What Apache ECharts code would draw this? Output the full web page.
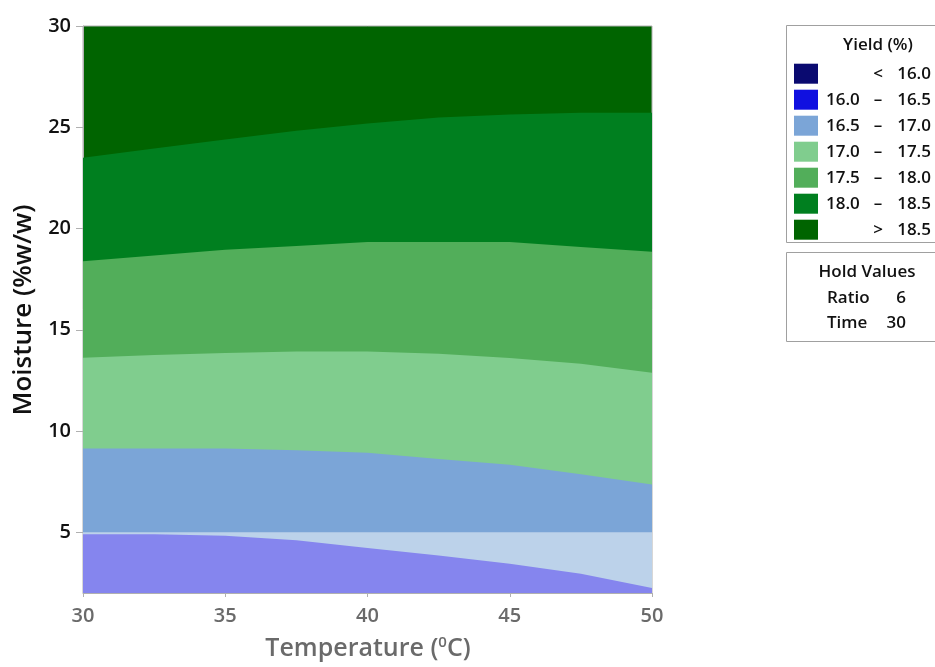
<!DOCTYPE html>
<html>
<head>
<meta charset="utf-8">
<script src="https://cdn.jsdelivr.net/npm/echarts@6/dist/echarts.min.js"></script>
<style>
html,body{margin:0;padding:0;background:#fff;}
#chart{width:935px;height:667px;}
</style>
</head>
<body>
<div id="chart"></div>
<script>
// Temperature (°C) sample points along the contour boundaries
var temps = [30, 32.5, 35, 37.5, 40, 42.5, 45, 47.5, 50];
// Moisture (%w/w) of each contour boundary at those temperatures
var b185 = [23.5, 23.95, 24.4, 24.83, 25.18, 25.48, 25.63, 25.72, 25.72];
var b180 = [18.38, 18.67, 18.95, 19.13, 19.33, 19.33, 19.33, 19.09, 18.85];
var b175 = [13.62, 13.75, 13.85, 13.92, 13.92, 13.82, 13.6, 13.32, 12.88];
var b170 = [9.13, 9.13, 9.13, 9.05, 8.92, 8.62, 8.33, 7.87, 7.36];
var b165 = [5, 5, 5, 5, 5, 5, 5, 5, 5];
var b160 = [4.9, 4.9, 4.83, 4.6, 4.22, 3.85, 3.45, 2.95, 2.25];

var yTicks = [5, 10, 15, 20, 25, 30];
var legendLeft = ['', '16.0', '16.5', '17.0', '17.5', '18.0', ''];
var legendSym = ['<', '\u2013', '\u2013', '\u2013', '\u2013', '\u2013', '>'];
var legendRight = ['16.0', '16.5', '17.0', '17.5', '18.0', '18.5', '18.5'];
var legendColors = ['#0a0a70', '#1010e0', '#7ba5d7', '#80cd8e', '#52ae5a', '#007f1f', '#006400'];
var holdNames = ['Ratio', 'Time'];
var holdValues = ['6', '30'];

var FONT = '"Open Sans", "Noto Sans", sans-serif';
var W = '600 ';

function pairs(arr){ return temps.map(function(t,i){ return [t, arr[i]]; }); }
function band(arr, color){
  return {
    type: 'line', data: pairs(arr), showSymbol: false, silent: true,
    lineStyle: {width: 0}, areaStyle: {color: color, opacity: 1, origin: 'start'},
    animation: false
  };
}

var series = [
  band(b185, '#007f1f'),
  band(b180, '#52ae5a'),
  band(b175, '#80cd8e'),
  band(b170, '#7ba5d7'),
  band(b165, '#bcd2ea'),
  band(b160, '#8585ee')
];

var graphics = [];
// Legend box
graphics.push({type:'rect', shape:{x:786.5, y:25.5, width:160, height:217}, style:{fill:'#fff', stroke:'#a0a0a0', lineWidth:1}});
graphics.push({type:'text', x:878, y:45, style:{text:'Yield (%)', font:W + '17px ' + FONT, fill:'#111', align:'center', verticalAlign:'middle'}});
for (var i = 0; i < legendColors.length; i++) {
  var cy = 73.7 + i * 26;
  graphics.push({type:'rect', shape:{x:794, y:cy - 10, width:24, height:20}, style:{fill:legendColors[i]}});
  if (legendLeft[i]) graphics.push({type:'text', x:826, y:cy, style:{text:legendLeft[i], font:W + '17px ' + FONT, fill:'#111', align:'left', verticalAlign:'middle'}});
  graphics.push({type:'text', x:878, y:cy, style:{text:legendSym[i], font:W + '17px ' + FONT, fill:'#111', align:'center', verticalAlign:'middle'}});
  graphics.push({type:'text', x:931, y:cy, style:{text:legendRight[i], font:W + '17px ' + FONT, fill:'#111', align:'right', verticalAlign:'middle'}});
}
// Hold values box
graphics.push({type:'rect', shape:{x:786.5, y:252.5, width:160, height:89}, style:{fill:'#fff', stroke:'#a0a0a0', lineWidth:1}});
graphics.push({type:'text', x:867, y:272, style:{text:'Hold Values', font:W + '17px ' + FONT, fill:'#111', align:'center', verticalAlign:'middle'}});
for (var j = 0; j < holdNames.length; j++) {
  var hy = 298 + j * 25;
  graphics.push({type:'text', x:827, y:hy, style:{text:holdNames[j], font:W + '17px ' + FONT, fill:'#111', align:'left', verticalAlign:'middle'}});
  graphics.push({type:'text', x:906, y:hy, style:{text:holdValues[j], font:W + '17px ' + FONT, fill:'#111', align:'right', verticalAlign:'middle'}});
}
// Axis titles
graphics.push({type:'text', x:24, y:310, rotation:Math.PI/2, style:{text:'Moisture (%w/w)', font:W + '26px ' + FONT, fill:'#111', align:'center', verticalAlign:'middle'}});
graphics.push({type:'text', x:368, y:649, style:{
  text:'Temperature ({sup|0}C)', font:W + '25px ' + FONT, fill:'#6a6a6a', align:'center', verticalAlign:'middle',
  rich:{sup:{font:W + '15px ' + FONT, fill:'#6a6a6a', verticalAlign:'top', padding:[0,0,12,0]}}
}});

var chart = echarts.init(document.getElementById('chart'), null, {renderer:'canvas'});
chart.setOption({
  animation: false,
  backgroundColor: '#fff',
  grid: {left:83, right:283, top:26, bottom:74, show:true, backgroundColor:'#006400', borderColor:'#b0b0b0', borderWidth:1},
  xAxis: {
    type:'value', min:30, max:50, interval:5,
    axisLine:{show:true, lineStyle:{color:'#b0b0b0', width:1}},
    axisTick:{show:true, length:4, lineStyle:{color:'#b0b0b0'}},
    axisLabel:{color:'#6a6a6a', fontSize:20, fontWeight:600, fontFamily:FONT, margin:13},
    splitLine:{show:false}
  },
  yAxis: {
    type:'value', min:2, max:30,
    axisLine:{show:true, lineStyle:{color:'#b0b0b0', width:1}},
    axisTick:{show:true, length:7, customValues:yTicks, lineStyle:{color:'#b0b0b0'}},
    axisLabel:{color:'#111', fontSize:20, fontWeight:600, fontFamily:FONT, margin:12, customValues:yTicks},
    splitLine:{show:false}
  },
  series: series,
  graphic: graphics
});
</script>
</body>
</html>
